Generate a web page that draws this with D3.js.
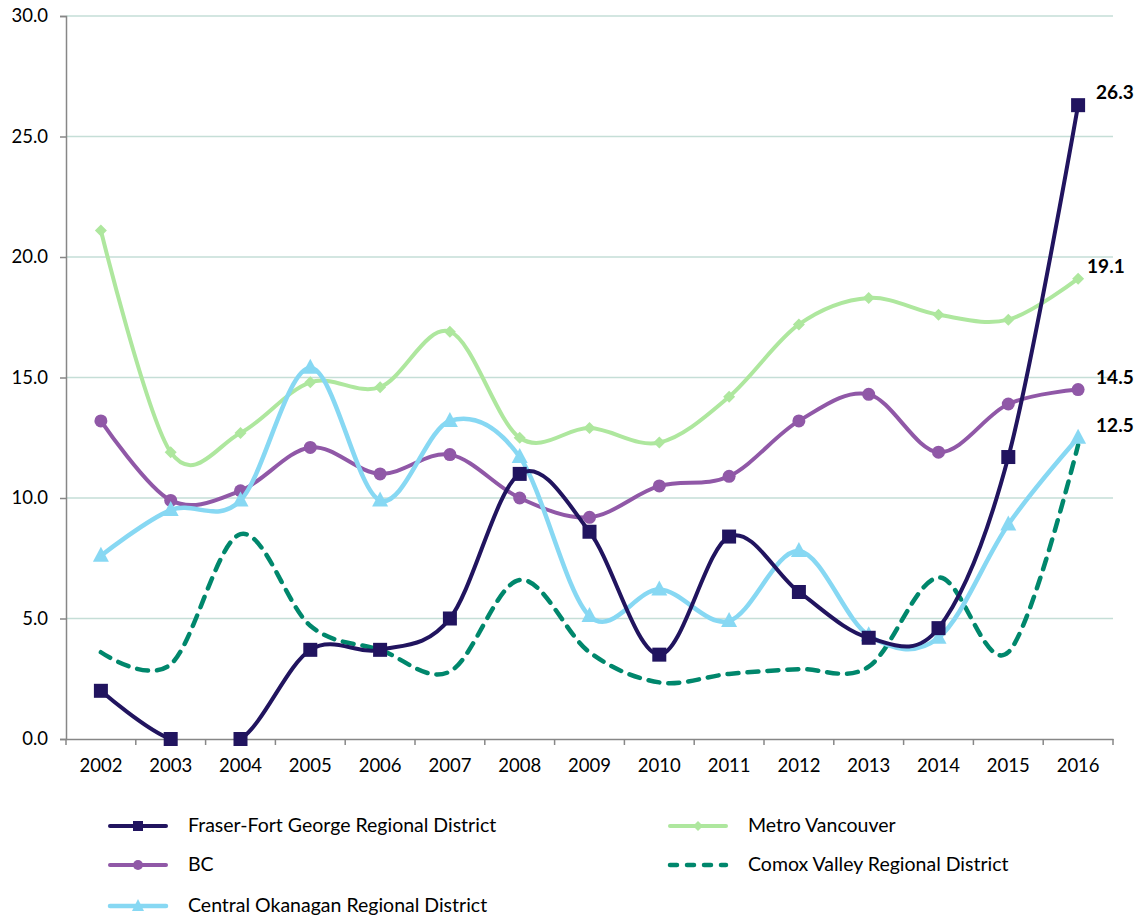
<!DOCTYPE html>
<html>
<head>
<meta charset="utf-8">
<script src="https://cdn.jsdelivr.net/npm/d3@7"></script>
<style>
  body { margin: 0; background: #fff; }
  svg text { font-family: Lato, "Open Sans", sans-serif; fill: #000; }
</style>
</head>
<body>
<svg></svg>
<script>
let years = ["2002","2003","2004","2005","2006","2007","2008","2009","2010","2011","2012","2013","2014","2015","2016"]
let yTicks = [0, 5, 10, 15, 20, 25, 30]

let fraserVals = [2.0, 0.0, 0.0, 3.7, 3.7, 5.0, 11.0, 8.6, 3.5, 8.4, 6.1, 4.2, 4.6, 11.7, 26.3]
let metroVals = [21.1, 11.9, 12.7, 14.8, 14.6, 16.9, 12.5, 12.9, 12.3, 14.2, 17.2, 18.3, 17.6, 17.4, 19.1]
let bcVals = [13.2, 9.9, 10.3, 12.1, 11.0, 11.8, 10.0, 9.2, 10.5, 10.9, 13.2, 14.3, 11.9, 13.9, 14.5]
let comoxVals = [3.6, 3.1, 8.5, 4.7, 3.7, 2.8, 6.6, 3.6, 2.35, 2.7, 2.9, 3.0, 6.7, 3.6, 12.2]
let okanaganVals = [7.6, 9.5, 9.9, 15.4, 9.9, 13.2, 11.7, 5.1, 6.2, 4.9, 7.8, 4.3, 4.2, 8.9, 12.5]

let series = [
  {name: "Fraser-Fort George Regional District", vals: fraserVals, color: "#21145f", marker: "square", width: 4, label: "26.3"},
  {name: "Metro Vancouver", vals: metroVals, color: "#aee79e", marker: "diamond", width: 4, label: "19.1"},
  {name: "BC", vals: bcVals, color: "#9058a7", marker: "circle", width: 4, label: "14.5"},
  {name: "Comox Valley Regional District", vals: comoxVals, color: "#00876c", marker: "none", width: 4.5, dash: "11,9", label: null},
  {name: "Central Okanagan Regional District", vals: okanaganVals, color: "#87d8f3", marker: "triangle", width: 4.5, label: "12.5"}
]

let width = 1143
let height = 919
let plotLeft = 66, plotRight = 1113, plotTop = 16, plotBottom = 739

let svg = d3.select('svg').attr('width', width).attr('height', height)

svg.append('clipPath').attr('id', 'plotclip')
  .append('rect')
  .attr('x', 0).attr('y', 0)
  .attr('width', width).attr('height', plotBottom)

let xScale = d3.scaleBand().domain(years).range([plotLeft, plotRight])
let yScale = d3.scaleLinear().domain([0, 30]).range([plotBottom, plotTop])
let cx = (i) => xScale(years[i]) + xScale.bandwidth() / 2

// gridlines
svg.append('g').selectAll('line')
  .data(yTicks.filter(d => d > 0))
  .enter().append('line')
  .attr('x1', plotLeft).attr('x2', plotRight)
  .attr('y1', d => yScale(d)).attr('y2', d => yScale(d))
  .attr('stroke', '#c5ded7').attr('stroke-width', 1.5)

// y axis
let yAxis = d3.axisLeft(yScale).tickValues(yTicks).tickFormat(d3.format('.1f')).tickSize(6).tickPadding(12)
let gy = svg.append('g').attr('transform', 'translate(' + plotLeft + ',0)').call(yAxis)
gy.selectAll('text').style('font-size', '18.5px')
gy.selectAll('line, path').attr('stroke', '#878787').attr('stroke-width', 1.5)

// x axis
let xAxis = d3.axisBottom(xScale).tickSize(0).tickPadding(20)
let gx = svg.append('g').attr('transform', 'translate(0,' + plotBottom + ')').call(xAxis)
gx.selectAll('text').style('font-size', '18.5px')
gx.select('path').attr('stroke', '#878787').attr('stroke-width', 1.5)
gx.selectAll('.tick line').remove()
gx.selectAll('line.sep')
  .data(d3.range(years.length + 1))
  .enter().append('line')
  .attr('class', 'sep')
  .attr('x1', i => plotLeft + i * xScale.step()).attr('x2', i => plotLeft + i * xScale.step())
  .attr('y1', 0).attr('y2', 6)
  .attr('stroke', '#878787').attr('stroke-width', 1.5)

let line = d3.line()
  .x((d, i) => cx(i))
  .y(d => yScale(d))
  .curve(d3.curveCardinal.tension(0))

let drawMarker = (g, type, color, x, y) => {
  if (type === 'square') {
    g.append('rect').attr('x', x - 7).attr('y', y - 7).attr('width', 14).attr('height', 14).attr('fill', color)
  } else if (type === 'diamond') {
    g.append('path').attr('d', `M${x},${y-6}L${x+6},${y}L${x},${y+6}L${x-6},${y}Z`).attr('fill', color)
  } else if (type === 'circle') {
    g.append('circle').attr('cx', x).attr('cy', y).attr('r', 6.5).attr('fill', color)
  } else if (type === 'triangle') {
    g.append('path').attr('d', `M${x},${y-9}L${x+8},${y+6}L${x-8},${y+6}Z`).attr('fill', color)
  }
}

// draw order: Comox dashed, Metro, BC, Okanagan, Fraser on top
let order = [3, 1, 2, 4, 0]
order.forEach(k => {
  let s = series[k]
  let g = svg.append('g')
  g.append('path')
    .datum(s.vals)
    .attr('d', line)
    .attr('clip-path', 'url(#plotclip)')
    .attr('fill', 'none')
    .attr('stroke', s.color)
    .attr('stroke-width', s.width)
    .attr('stroke-linecap', s.dash ? 'round' : 'butt')
    .attr('stroke-dasharray', s.dash || null)
  s.vals.forEach((v, i) => drawMarker(g, s.marker, s.color, cx(i), yScale(v)))
})

// end labels
series.forEach(s => {
  if (!s.label) return
  let last = s.vals.length - 1
  let x = cx(last)
  let y = yScale(s.vals[last])
  let dx = s.marker === 'diamond' ? 9 : 18
  svg.append('text')
    .attr('x', x + dx).attr('y', y - 6)
    .style('font-size', '19px').style('font-weight', 'bold')
    .text(s.label)
})

// legend
let legendPos = [
  {k: 0, x: 110, y: 826},
  {k: 1, x: 670, y: 826},
  {k: 2, x: 110, y: 865},
  {k: 3, x: 670, y: 865},
  {k: 4, x: 110, y: 906}
]
legendPos.forEach(p => {
  let s = series[p.k]
  let g = svg.append('g')
  g.append('line')
    .attr('x1', p.x).attr('x2', p.x + 56)
    .attr('y1', p.y).attr('y2', p.y)
    .attr('stroke', s.color).attr('stroke-width', s.width)
    .attr('stroke-linecap', 'round')
    .attr('stroke-dasharray', s.dash ? '7,10' : null)
  if (s.marker === 'square') {
    g.append('rect').attr('x', p.x + 28 - 5).attr('y', p.y - 5).attr('width', 10).attr('height', 10).attr('fill', s.color)
  } else if (s.marker === 'diamond') {
    g.append('path').attr('d', `M${p.x+28},${p.y-5}L${p.x+33},${p.y}L${p.x+28},${p.y+5}L${p.x+23},${p.y}Z`).attr('fill', s.color)
  } else if (s.marker === 'circle') {
    g.append('circle').attr('cx', p.x + 28).attr('cy', p.y).attr('r', 5).attr('fill', s.color)
  } else if (s.marker === 'triangle') {
    g.append('path').attr('d', `M${p.x+28},${p.y-7}L${p.x+34},${p.y+5}L${p.x+22},${p.y+5}Z`).attr('fill', s.color)
  }
  g.append('text')
    .attr('x', p.x + 78).attr('y', p.y + 6)
    .style('font-size', '19.5px')
    .text(s.name)
})
</script>
</body>
</html>
